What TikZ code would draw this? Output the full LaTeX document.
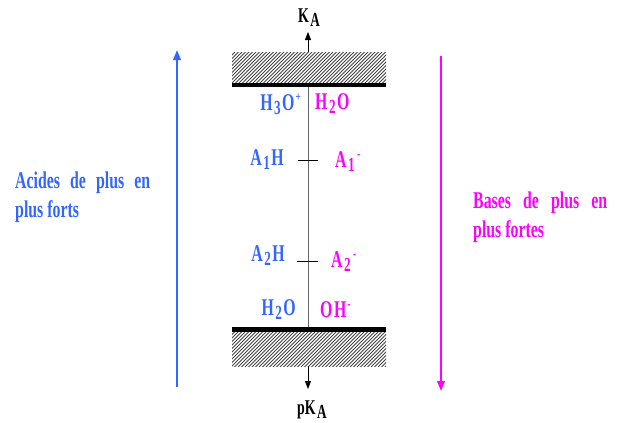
\documentclass[tikz,border=0pt]{standalone}
\usepackage{fontspec}
\setmainfont{Liberation Serif}
\newfontfamily\cf[FakeStretch=0.66]{Liberation Serif}
\usetikzlibrary{arrows.meta}
\definecolor{acid}{RGB}{51,102,255}
\definecolor{base}{RGB}{255,0,255}
\definecolor{hatchc}{RGB}{70,70,70}
\newcommand\lsub[1]{\hspace{1.5pt}\raisebox{-4pt}{\fontsize{20}{20}\selectfont #1}\hspace{1.5pt}}
\newcommand\lsup[1]{\hspace{1pt}\raisebox{9pt}{\fontsize{14}{14}\selectfont #1}}
\tikzset{
  lbl/.style={inner sep=0pt, font=\cf\bfseries\fontsize{24}{24}\selectfont},
  acidlbl/.style={lbl, text=acid},
  baselbl/.style={lbl, text=base},
  para/.style={inner sep=0pt, anchor=base west, font=\cf\bfseries\fontsize{24}{24}\selectfont},
  bar/.style={line width=4.5pt, black},
  axis/.style={line width=0.9pt, draw=black!60},
  tick/.style={line width=0.9pt, black},
  smallarrow/.style={line width=0.8pt, -{Triangle[length=8pt,width=6pt]}},
  bigarrow/.style={line width=2pt, -{Triangle[length=10pt,width=7.5pt]}},
}
\begin{document}
\begin{tikzpicture}[x=1pt,y=-1pt]
\useasboundingbox (0,0) rectangle (622,423);
% hatched blocks
\begin{scope}
  \clip (232,52) rectangle (386,83);
  \foreach \x in {196,199.5,...,392} {\draw[hatchc, line width=0.8pt] (\x,84) -- (\x+33,51);}
\end{scope}
\begin{scope}
  \clip (232,331) rectangle (386,366);
  \foreach \x in {196,199.5,...,392} {\draw[hatchc, line width=0.8pt] (\x,367) -- (\x+36,331);}
\end{scope}
% coordinates
\coordinate (barTL) at (232,85);
\coordinate (barTR) at (386,85);
\coordinate (barBL) at (232,329.5);
\coordinate (barBR) at (386,329.5);
\coordinate (axTop) at (308,87);
\coordinate (axBot) at (308,327);
\coordinate (upS) at (308,52);
\coordinate (upE) at (308,32);
\coordinate (dnS) at (308,366);
\coordinate (dnE) at (308,389);
\coordinate (t1L) at (298,160);
\coordinate (t1R) at (318,160);
\coordinate (t2L) at (297,261);
\coordinate (t2R) at (318,261);
\coordinate (accS) at (177,387);
\coordinate (accE) at (177,50);
\coordinate (basS) at (441,56);
\coordinate (basE) at (441,391);
% axis and bars
\draw[axis] (axTop) -- (axBot);
\draw[bar] (barTL) -- (barTR);
\draw[bar] (barBL) -- (barBR);
\draw[tick] (t1L) -- (t1R);
\draw[tick] (t2L) -- (t2R);
\draw[smallarrow] (upS) -- (upE);
\draw[smallarrow] (dnS) -- (dnE);
% big arrows
\draw[bigarrow, acid] (accS) -- (accE);
\draw[bigarrow, base] (basS) -- (basE);
% axis labels
\node[lbl, font=\cf\bfseries\fontsize{21}{21}\selectfont] (ka) at (309,18) {K\lsub{A}};
\node[lbl, font=\cf\bfseries\fontsize{21}{21}\selectfont] (pka) at (312,410) {pK\lsub{A}};
% species
\node[acidlbl, anchor=east] (h3o) at (301,104) {H\lsub{3}O\lsup{+}};
\node[baselbl, anchor=west] (h2oB) at (315,104) {H\lsub{2}O};
\node[acidlbl, anchor=east] (a1h) at (284,160) {A\lsub{1}H};
\node[baselbl, anchor=west] (a1) at (335,162) {A\lsub{1}\lsup{-}};
\node[acidlbl, anchor=east] (a2h) at (285,256) {A\lsub{2}H};
\node[baselbl, anchor=west] (a2) at (331,262) {A\lsub{2}\lsup{-}};
\node[acidlbl, anchor=east] (h2oA) at (296,310) {H\lsub{2}O};
\node[baselbl, anchor=west] (oh) at (320,310) {O\hspace{1.5pt}H\lsup{-}};
% side texts
\node[para, text=acid] (ac1) at (15,188) {\makebox[135pt][s]{Acides de plus en}};
\node[para, text=acid] (ac2) at (15,217) {plus forts};
\node[para, text=base] (ba1) at (473,208) {\makebox[134pt][s]{Bases de plus en}};
\node[para, text=base] (ba2) at (473,237) {plus fortes};
\end{tikzpicture}
\end{document}
